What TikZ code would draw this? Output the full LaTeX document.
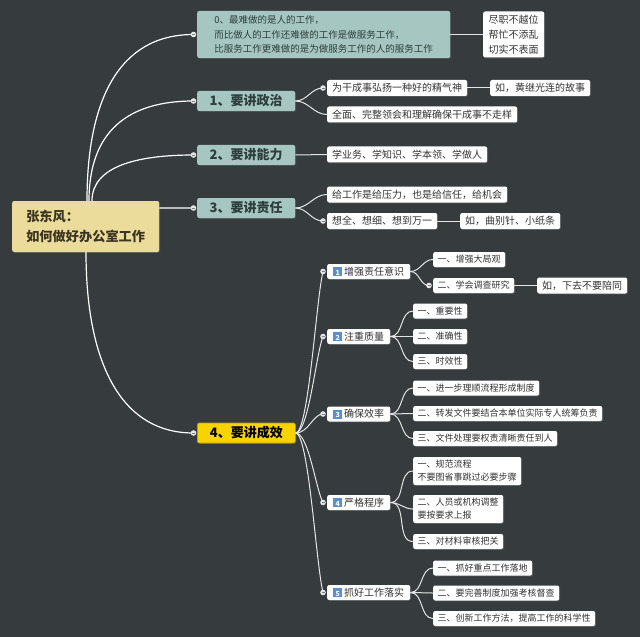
\documentclass[tikz,border=0pt]{standalone}
\usepackage{fontspec}
\setmainfont{Noto Sans CJK SC}
\usetikzlibrary{shadows}
\definecolor{bg}{HTML}{363B3E}
\definecolor{tealbox}{HTML}{A6C6C1}
\definecolor{tealtxt}{HTML}{2E3E3C}
\definecolor{rootfill}{HTML}{ECDC9C}
\definecolor{roottxt}{HTML}{3A3520}
\definecolor{yelfill}{HTML}{F7D300}
\definecolor{yelbord}{HTML}{C9A000}
\definecolor{txt}{HTML}{333333}
\definecolor{knobc}{HTML}{E6E6E6}
\definecolor{iconblue}{HTML}{5A8ED0}
\newcommand\numicon[1]{{\setlength{\fboxsep}{0pt}\colorbox{iconblue}{\makebox[9bp]{\rule[-1.2bp]{0pt}{9.2bp}\textcolor{white}{\fontsize{7bp}{7bp}\selectfont\bfseries #1}}}}\hspace{2bp}}
\begin{document}
\begin{tikzpicture}[x=1bp,y=-1bp,
  base/.style={rounded corners=2bp, inner sep=0pt, anchor=west,
    drop shadow={opacity=0.35, shadow xshift=0.8bp, shadow yshift=-0.8bp}},
  rootbox/.style={base, fill=rootfill, text=roottxt, minimum width=147bp, minimum height=51bp,
    align=left, font=\fontsize{13.2bp}{20bp}\selectfont\bfseries},
  l1/.style={base, fill=tealbox, text=tealtxt, minimum width=98bp, minimum height=20bp,
    font=\fontsize{13bp}{15bp}\selectfont\bfseries},
  zero/.style={base, fill=tealbox, text=tealtxt, minimum width=253bp, minimum height=47bp,
    align=left, font=\fontsize{9.5bp}{14.5bp}\selectfont},
  leaf/.style={base, fill=white, text=txt, inner xsep=5bp, minimum height=16bp,
    font=\fontsize{10bp}{12bp}\selectfont},
  leafm/.style={leaf, align=left, font=\fontsize{10bp}{15bp}\selectfont},
  sub/.style={base, fill=white, text=txt, inner xsep=6bp, minimum height=15bp,
    font=\fontsize{10bp}{12bp}\selectfont},
  leafs/.style={leaf, inner xsep=4.5bp, minimum height=15bp, font=\fontsize{9bp}{11bp}\selectfont},
  leafsm/.style={leafs, align=left, minimum height=28bp, font=\fontsize{9bp}{13bp}\selectfont},
  link/.style={draw=white, line width=1.2bp},
  sublink/.style={draw=white!90!black, line width=1bp},
]
\fill[bg] (0,0) rectangle (640,637);
\useasboundingbox (0,0) rectangle (640,637);

% root and level 1
\node[rootbox] (root) at (12,226.5) {张东风：\\如何做好办公室工作};
\node[zero] (n0) at (197,34.5) {0、最难做的是人的工作，\\而比做人的工作还难做的工作是做服务工作，\\比服务工作更难做的是为做服务工作的人的服务工作};
\node[l1] (n1) at (197,101) {1、要讲政治};
\node[l1] (n2) at (197,155) {2、要讲能力};
\node[l1] (n3) at (197,208) {3、要讲责任};
\node[l1, fill=yelfill, draw=yelbord, line width=0.6bp, text=black] (n4) at (197,433) {4、要讲成效};

% level 2
\node[leafm, inner xsep=5.5bp, minimum height=46bp] (r0) at (483,34.5) {尽职不越位\\帮忙不添乱\\切实不表面};
\node[leaf] (c1a) at (327,88) {为干成事弘扬一种好的精气神};
\node[leaf] (c1c) at (490,88) {如，黄继光连的故事};
\node[leaf] (c1b) at (327,114.5) {全面、完整领会和理解确保干成事不走样};
\node[leaf] (c2) at (327,154.5) {学业务、学知识、学本领、学做人};
\node[leaf] (c3a) at (327,194.5) {给工作是给压力，也是给信任，给机会};
\node[leaf] (c3b) at (327,221) {想全、想细、想到万一};
\node[leaf] (c3c) at (460,221) {如，曲别针、小纸条};

\node[sub] (c4a) at (327,271.5) {\numicon{1}增强责任意识};
\node[sub] (c4b) at (327,336.5) {\numicon{2}注重质量};
\node[sub] (c4c) at (327,414) {\numicon{3}确保效率};
\node[sub] (c4d) at (327,502.5) {\numicon{4}严格程序};
\node[sub] (c4e) at (327,592.5) {\numicon{5}抓好工作落实};

\node[leafs] (g4a1) at (433,259.5) {一、增强大局观};
\node[leafs] (g4a2) at (433,285.5) {二、学会调查研究};
\node[leaf] (g4a3) at (537,285.5) {如，下去不要陪同};
\node[leafs] (g4b1) at (413,311) {一、重要性};
\node[leafs] (g4b2) at (413,336.5) {二、准确性};
\node[leafs] (g4b3) at (413,361.5) {三、时效性};
\node[leafs] (g4c1) at (413,388) {一、进一步理顺流程形成制度};
\node[leafs] (g4c2) at (413,413.5) {二、转发文件要结合本单位实际专人统筹负责};
\node[leafs] (g4c3) at (413,438.5) {三、文件处理要权责清晰责任到人};
\node[leafsm] (g4d1) at (413,471) {一、规范流程\\不要图省事跳过必要步骤};
\node[leafsm] (g4d2) at (413,509) {二、人员或机构调整\\要按要求上报};
\node[leafs] (g4d3) at (413,541.5) {三、对材料审核把关};
\node[leafs] (g4e1) at (433,568) {一、抓好重点工作落地};
\node[leafs] (g4e2) at (433,593) {二、要完善制度加强考核督查};
\node[leafs] (g4e3) at (433,618.5) {三、创新工作方法，提高工作的科学性};

% knob coordinates
\coordinate (k0) at (193.5,34.5);
\coordinate (k1) at (193.5,101);
\coordinate (k2) at (193.5,155);
\coordinate (k3) at (193.5,208);
\coordinate (k4) at (193.5,433);
\coordinate (k1a) at (323,88);
\coordinate (k3b) at (323,221);
\coordinate (k4a) at (323,271.5);
\coordinate (k4b) at (323,336.5);
\coordinate (k4c) at (323,414);
\coordinate (k4d) at (323,502.5);
\coordinate (k4e) at (323,592.5);
\coordinate (k4a2) at (429,285.5);

% root links
\draw[link] ([xshift=75bp]root.north west) .. controls +(0,-100) and +(-75,0) .. (k0);
\draw[link] ([xshift=77bp]root.north west) .. controls +(0,-70) and +(-65,0) .. (k1);
\draw[link] ([xshift=80bp]root.north west) .. controls +(0,-35) and +(-55,0) .. (k2);
\draw[link] ([yshift=18.5bp]root.east) -- (k3);
\draw[link] ([xshift=74bp]root.south west) .. controls +(0,108) and +(-74,0) .. (k4);

% level 1 to level 2
\draw[sublink] (n0.east) -- (r0.west);
\draw[sublink] (n1.east) to[out=0,in=180] (k1a);
\draw[sublink] (n1.east) to[out=0,in=180] (c1b.west);
\draw[sublink] (c1a.east) -- (c1c.west);
\draw[sublink] (n2.east) -- (c2.west);
\draw[sublink] (n3.east) to[out=0,in=180] (c3a.west);
\draw[sublink] (n3.east) to[out=0,in=180] (k3b);
\draw[sublink] (c3b.east) -- (c3c.west);

\draw[sublink] (n4.east) .. controls +(13,0) and +(-7,29) .. (k4a);
\draw[sublink] (n4.east) .. controls +(13,0) and +(-7,17.4) .. (k4b);
\draw[sublink] (n4.east) .. controls +(13,0) and +(-10,0) .. (k4c);
\draw[sublink] (n4.east) .. controls +(13,0) and +(-7,-12.5) .. (k4d);
\draw[sublink] (n4.east) .. controls +(13,0) and +(-7,-28.7) .. (k4e);

% level 3
\draw[sublink] (c4a.east) to[out=0,in=180] (g4a1.west);
\draw[sublink] (c4a.east) to[out=0,in=180] (k4a2);
\draw[sublink] (g4a2.east) -- (g4a3.west);
\foreach \g in {g4b1,g4b2,g4b3} \draw[sublink] (c4b.east) to[out=0,in=180] (\g.west);
\foreach \g in {g4c1,g4c2,g4c3} \draw[sublink] (c4c.east) to[out=0,in=180] (\g.west);
\foreach \g in {g4d1,g4d2,g4d3} \draw[sublink] (c4d.east) to[out=0,in=180] (\g.west);
\foreach \g in {g4e1,g4e2,g4e3} \draw[sublink] (c4e.east) to[out=0,in=180] (\g.west);

% knobs
\foreach \k in {k0,k1,k2,k3,k4,k1a,k3b,k4a,k4b,k4c,k4d,k4e,k4a2} {
  \fill[knobc] (\k) circle (2.8bp);
  \draw[gray, line width=0.6bp] ([xshift=-1.5bp]\k) -- ([xshift=1.5bp]\k);
}
\end{tikzpicture}
\end{document}
